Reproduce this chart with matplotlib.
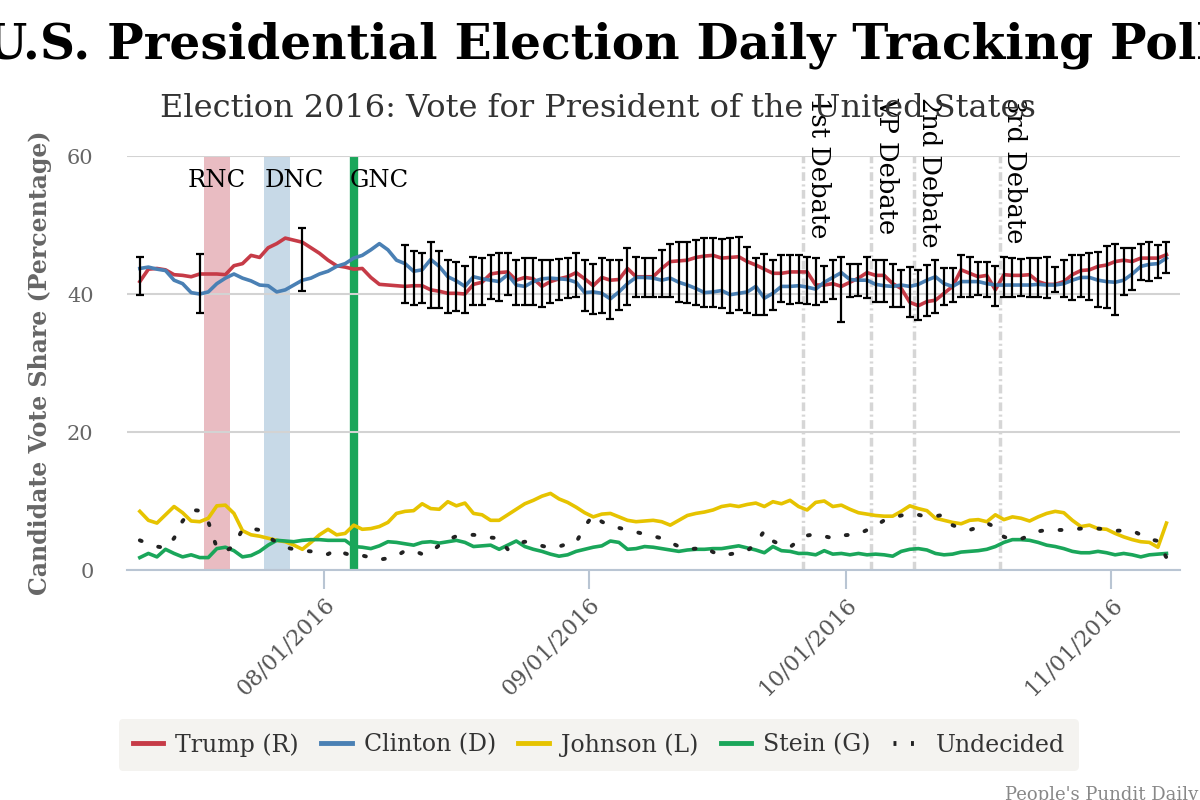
import numpy as np
import pandas as pd
import matplotlib
matplotlib.use("Agg")
import matplotlib.pyplot as plt
import matplotlib.dates as mdates
from matplotlib.lines import Line2D

plt.rcParams["font.family"] = "DejaVu Serif"

nan = np.nan

# one value per day, 07/10/2016 .. 11/07/2016
dates = pd.date_range("2016-07-10 12:00", periods=121, freq="D")

trump = [41.8, 43.6, 43.7, 43.5, 42.8, 42.7, 42.5, 42.9, 42.9, 42.9, 42.8, 44.1, 44.4, 45.6, 45.3,
         46.7, 47.3, 48.1, 47.8, 47.5, 46.7, 45.9, 44.9, 44.1, 43.9, 43.6, 43.7, 42.4, 41.4, 41.3,
         41.2, 41.1, 41.2, 41.2,
         40.6, 40.4, 40.1, 40.1, 40.0, 41.4, 41.7, 42.9, 43.1, 43.2, 42.0, 42.4, 42.2, 41.1, 41.8,
         42.2, 42.5, 43.1, 42.2, 41.2, 42.4, 42.0, 42.1, 43.7, 42.5, 42.5, 42.5, 43.7, 44.7, 44.8,
         44.9, 45.3, 45.5, 45.6, 45.2, 45.3, 45.4, 44.7, 44.2, 43.6, 43.0, 43.0, 43.2, 43.2,
         43.2, 41.3, 41.3, 41.5, 41.1, 41.7, 42.3, 43.1, 42.7, 42.7, 41.5, 40.8, 38.8, 38.3, 38.9,
         39.1, 40.1, 41.1, 43.5, 43.0, 42.5, 42.7, 40.6, 42.8, 42.7, 42.7, 42.8, 41.8, 41.4, 41.4,
         41.8, 42.8, 43.4, 43.5, 44.0, 44.2, 44.7, 44.9, 44.7, 45.2, 45.2, 45.2, 45.7]

clinton = [43.7, 43.9, 43.6, 43.4, 42.0, 41.5, 40.2, 40.0, 40.3, 41.5, 42.3, 42.9, 42.3, 41.9, 41.3,
           41.2, 40.3, 40.6, 41.3, 42.0, 42.3, 42.9, 43.3, 44.0, 44.4, 45.2, 45.6, 46.4, 47.3, 46.4,
           44.9, 44.4, 43.3, 43.5,
           45.0, 44.0, 42.5, 41.9, 41.1, 42.5, 42.2, 42.0, 41.8, 42.8, 41.3, 41.1, 41.8, 42.2, 42.3,
           42.2, 42.1, 41.7, 40.2, 40.3, 40.1, 39.3, 40.3, 41.5, 42.4, 42.4, 42.3, 42.0, 42.3, 41.7,
           41.3, 40.8, 40.2, 40.3, 40.5, 39.9, 40.1, 40.3, 41.1, 39.4, 40.1, 41.1, 41.1, 41.2,
           41.0, 40.7, 41.7, 42.4, 43.1, 42.1, 42.0, 42.0, 41.4, 41.2, 41.1, 41.3, 41.1, 41.4, 42.0,
           42.5, 41.5, 41.1, 41.8, 41.8, 41.8, 41.5, 41.3, 41.3, 41.3, 41.3, 41.3, 41.4, 41.3, 41.3,
           41.5, 42.0, 42.4, 42.4, 42.0, 41.8, 41.7, 42.0, 42.9, 44.0, 44.3, 44.4, 45.2]

johnson = [8.5, 7.2, 6.8, 8.0, 9.2, 8.3, 7.1, 7.0, 7.5, 9.3, 9.4, 8.2, 5.7, 5.1, 4.9, 4.6, 4.3, 4.1,
           3.6, 3.0, 4.0, 5.1, 5.9, 5.1, 5.3, 6.5, 5.9, 6.0, 6.3, 6.9, 8.2, 8.5, 8.6, 9.6, 8.9, 8.8,
           9.9, 9.3, 9.7, 8.2,
           8.0, 7.2, 7.2, 8.0, 8.8, 9.6, 10.1, 10.7, 11.1, 10.3, 9.8, 9.1, 8.3, 7.7, 8.1, 8.2, 7.7,
           7.2, 7.0, 7.1, 7.2, 7.0, 6.5, 7.2, 7.9, 8.2, 8.4, 8.7, 9.2, 9.4, 9.2, 9.5, 9.7, 9.2, 9.9,
           9.6, 10.1, 9.2, 8.7,
           9.8, 10.0, 9.2, 9.4, 8.8, 8.3, 8.1, 7.9, 7.8, 7.8, 8.5, 9.3, 8.9, 8.6, 7.5, 7.2, 6.9, 6.7,
           7.2, 7.3, 7.0, 8.0, 7.3, 7.7, 7.5, 7.1, 7.7, 8.2, 8.5, 8.3, 7.2, 6.3, 6.5, 6.0, 5.9, 5.3,
           4.8, 4.4, 4.1, 4.0, 3.3, 6.8]

stein = [1.8, 2.4, 1.9, 3.0, 2.4, 1.9, 2.2, 1.8, 1.8, 3.1, 3.3, 2.8, 1.9, 2.1, 2.7, 3.6, 4.3, 4.2,
         4.1, 4.3, 4.4, 4.4, 4.3, 4.3, 4.3, 3.4, 3.3, 3.1, 3.5, 4.1, 4.0, 3.8, 3.6, 4.0, 4.1, 3.9,
         4.1, 4.3, 4.0, 3.4,
         3.5, 3.6, 3.0, 3.6, 4.2, 3.4, 3.0, 2.7, 2.3, 2.0, 2.2, 2.7, 3.0, 3.3, 3.5, 4.2, 4.0, 3.0,
         3.1, 3.4, 3.3, 3.1, 2.9, 2.7, 2.9, 3.0, 3.0, 3.1, 3.1, 3.3, 3.5, 3.2, 2.9, 2.5, 3.4, 2.8,
         2.7, 2.4, 2.4,
         2.2, 2.8, 2.3, 2.4, 2.2, 2.4, 2.2, 2.3, 2.2, 2.0, 2.7, 3.0, 3.1, 2.9, 2.4, 2.2, 2.3, 2.6,
         2.7, 2.8, 3.0, 3.4, 4.0, 4.4, 4.4, 4.3, 4.0, 3.6, 3.4, 3.1, 2.7, 2.5, 2.5, 2.7, 2.5, 2.2,
         2.4, 2.2, 1.9, 2.2, 2.3, 2.4]

undecided = [4.3, 3.8, 3.4, 3.2, 4.6, 7.1, 8.7, 8.6, 7.0, 3.2, 2.7, 3.5, 5.9, 6.0, 5.8, 4.8, 4.0,
             3.3, 3.0, 2.8, 2.7, 2.3, 2.3, 3.0, 2.4, 2.0, 2.1, 1.8, 1.5, 1.7, 2.0, 2.8, 2.8, 2.3,
             2.6, 3.6, 4.4, 4.9, 5.0, 5.1,
             4.9, 4.7, 4.6, 3.0, 3.8, 4.1, 3.9, 3.5, 3.2, 3.4, 3.8, 4.0, 6.3, 8.0, 7.0, 6.4, 6.1,
             5.8, 5.5, 5.2, 4.9, 4.6, 4.0, 3.4, 3.0, 3.1, 3.3, 2.6, 2.1, 2.3, 2.5, 2.8, 3.8, 5.7,
             4.2, 3.6, 3.3, 4.3, 5.0,
             5.2, 4.9, 4.6, 5.0, 5.1, 5.2, 5.8, 6.4, 7.2, 7.6, 7.9, 8.2, 8.0, 7.7, 7.8, 8.0, 6.5,
             6.0, 5.8, 6.2, 6.8, 6.2, 4.8, 4.4, 4.5, 5.0, 5.6, 5.8, 5.8, 5.8, 5.9, 6.0, 6.0, 6.0,
             5.9, 5.7, 5.7, 5.7, 5.1, 4.5, 4.2, 1.8]

# margin-of-error bars (center, half width); nan = no bar that day
bar_mid = ([42.6] + [nan] * 6 + [41.5] + [nan] * 11 + [45.0] + [nan] * 11 +
           [42.9, 42.3, 42.3,
            42.7, 42.1, 41.1, 41.1, 40.6, 41.9, 41.8, 42.5, 42.5, 42.9, 41.7, 41.8, 41.8, 41.5,
            41.8, 42.1, 42.3, 42.8, 41.2, 40.7, 41.2, 40.7, 41.3, 42.5, 42.5, 42.4, 42.4, 43.0,
            43.4, 43.2, 43.1, 43.1, 43.1, 43.1, 42.9, 42.7, 43.0, 42.0, 41.1, 41.4, 41.3, 42.3,
            42.1, 42.2,
            42.0, 41.8, 41.4, 42.1, 40.7, 41.9, 42.0, 42.4, 41.9, 41.9, 41.2, 40.8, 40.3, 39.9,
            40.5, 41.1, 41.1, 41.3, 42.6, 42.5, 42.3, 42.1, 41.1, 42.5, 42.4, 42.4, 42.4, 42.4,
            42.4, 42.1, 42.3, 42.4, 42.6, 42.5, 42.1, 42.4, 42.1, 43.2, 43.6, 44.6, 44.7, 44.7,
            45.3])
bar_half = ([2.8] + [nan] * 6 + [4.3] + [nan] * 11 + [4.5] + [nan] * 11 +
            [4.2, 3.9, 3.6,
             4.8, 4.2, 3.8, 3.5, 3.4, 3.5, 3.4, 3.2, 3.5, 3.1, 3.3, 3.4, 3.4, 3.4, 3.1, 3.0, 2.9,
             3.2, 3.7, 3.6, 4.0, 4.3, 3.6, 4.1, 2.9, 2.8, 2.8, 3.4, 3.8, 4.3, 4.4, 4.7, 5.0, 5.0,
             5.0, 5.4, 5.3, 4.8, 4.1, 4.4, 3.6, 3.4, 3.5, 3.5,
             3.4, 3.4, 2.6, 2.8, 4.7, 2.4, 2.3, 3.0, 3.1, 3.1, 3.1, 2.7, 3.6, 3.6, 3.7, 3.9, 2.7,
             2.5, 3.0, 2.9, 2.4, 2.5, 2.9, 2.9, 2.8, 2.7, 2.8, 2.8, 3.0, 1.8, 2.7, 3.3, 3.1, 3.4,
             4.0, 4.5, 5.1, 3.4, 3.0, 2.6, 2.8, 2.4, 2.3])

conventions = [("RNC", "2016-07-18", "2016-07-21"), ("DNC", "2016-07-25", "2016-07-28")]
gnc_date = "2016-08-04 12:00"
debates = [("1st Debate", "2016-09-26"), ("VP Debate", "2016-10-04"),
           ("2nd Debate", "2016-10-09"), ("3rd Debate", "2016-10-19")]

c_trump = "#c63b47"
c_clinton = "#4a80b4"
c_johnson = "#e6c300"
c_stein = "#1aa65a"
c_und = "#222222"

fig = plt.figure(figsize=(12, 8), dpi=100)
ax = fig.add_axes([127 / 1200, 1 - 570 / 800, 1053 / 1200, 414 / 800])

# convention markers
ax.axvspan(pd.Timestamp(conventions[0][1]), pd.Timestamp(conventions[0][2]),
           color="#e9bcc2", lw=0, zorder=0)
ax.axvspan(pd.Timestamp(conventions[1][1]), pd.Timestamp(conventions[1][2]),
           color="#c7d9e7", lw=0, zorder=0)
ax.axvline(pd.Timestamp(gnc_date), color=c_stein, lw=6, zorder=0)
ax.text(pd.Timestamp("2016-07-19 12:00"), 56.5, "RNC", ha="center", va="center", fontsize=17.5)
ax.text(pd.Timestamp("2016-07-28 12:00"), 56.5, "DNC", ha="center", va="center", fontsize=17.5)
ax.text(pd.Timestamp("2016-08-07 12:00"), 56.5, "GNC", ha="center", va="center", fontsize=17.5)

for label, d in debates:
    ax.axvline(pd.Timestamp(d), color="#d6d6d6", lw=2.5,
               linestyle=(0, (2.5, 1.0, 0.6, 1.0)), zorder=0.5)
    ax.annotate(label, xy=(pd.Timestamp(d), 68.6), xytext=(2, 0), textcoords="offset points",
                rotation=270, ha="left", va="top", fontsize=18.5, annotation_clip=False)

ax.plot(dates, trump, color=c_trump, lw=2.6, zorder=2)
ax.plot(dates, clinton, color=c_clinton, lw=2.6, zorder=2)
ax.plot(dates, johnson, color=c_johnson, lw=2.6, zorder=2)
ax.plot(dates, stein, color=c_stein, lw=2.6, zorder=2)
ax.plot(dates, undecided, color=c_und, lw=2.8, linestyle=(0, (0.5, 4.5)),
        dash_capstyle="round", zorder=2)

ax.errorbar(dates, bar_mid, yerr=bar_half, fmt="none", ecolor="black", elinewidth=1.6,
            capsize=3, capthick=1.6, zorder=3)

ax.set_ylim(0, 60)
ax.set_xlim(dates[0] - pd.Timedelta(hours=36), dates[-1] + pd.Timedelta(hours=38))
ax.set_yticks([0, 20, 40, 60])
ax.yaxis.grid(True, color="#d3d3d3", lw=1.5)
ax.set_axisbelow(True)
for s in ["top", "right", "left"]:
    ax.spines[s].set_visible(False)
ax.spines["bottom"].set_color("#b9c5d3")
ax.spines["bottom"].set_linewidth(1.5)

ax.xaxis.set_major_locator(mdates.MonthLocator(bymonth=[8, 9, 10, 11]))
ax.xaxis.set_major_formatter(mdates.DateFormatter("%m/%d/%Y"))
ax.tick_params(axis="x", length=14, width=1.5, color="#b9c5d3", labelsize=16,
               labelcolor="#555555", pad=3)
ax.tick_params(axis="y", length=0, labelsize=15, labelcolor="#666666", pad=24)
for lab in ax.get_xticklabels():
    lab.set_rotation(45)
    lab.set_ha("right")
    lab.set_rotation_mode("anchor")

ax.set_ylabel("Candidate Vote Share (Percentage)", fontsize=17, fontweight="bold",
              color="#666666", labelpad=11)

fig.text(0.5, 0.944, "U.S. Presidential Election Daily Tracking Poll", ha="center",
         va="center", fontsize=35, fontweight="bold")
fig.text(0.498, 0.864, "Election 2016: Vote for President of the United States", ha="center",
         va="center", fontsize=23, color="#333333")

handles = [Line2D([], [], color=c_trump, lw=3.5),
           Line2D([], [], color=c_clinton, lw=3.5),
           Line2D([], [], color=c_johnson, lw=3.5),
           Line2D([], [], color=c_stein, lw=3.5),
           Line2D([], [], color=c_und, lw=3.5, linestyle=(0, (0.6, 3.0)))]
labels = ["Trump (R)", "Clinton (D)", "Johnson (L)", "Stein (G)", "Undecided"]
leg = fig.legend(handles, labels, loc="center", bbox_to_anchor=(0.499, 0.069), ncol=5,
                 fontsize=17, frameon=True, facecolor="#f4f3f0", edgecolor="none",
                 handlelength=1.3, handletextpad=0.5, columnspacing=0.95, borderpad=0.6,
                 fancybox=True, framealpha=1)
for t in leg.get_texts():
    t.set_color("#333333")

fig.text(0.8375, 0.0175, "People's Pundit Daily", ha="left", va="top", fontsize=13,
         color="#888888")

fig.savefig("out.png", dpi=100)
